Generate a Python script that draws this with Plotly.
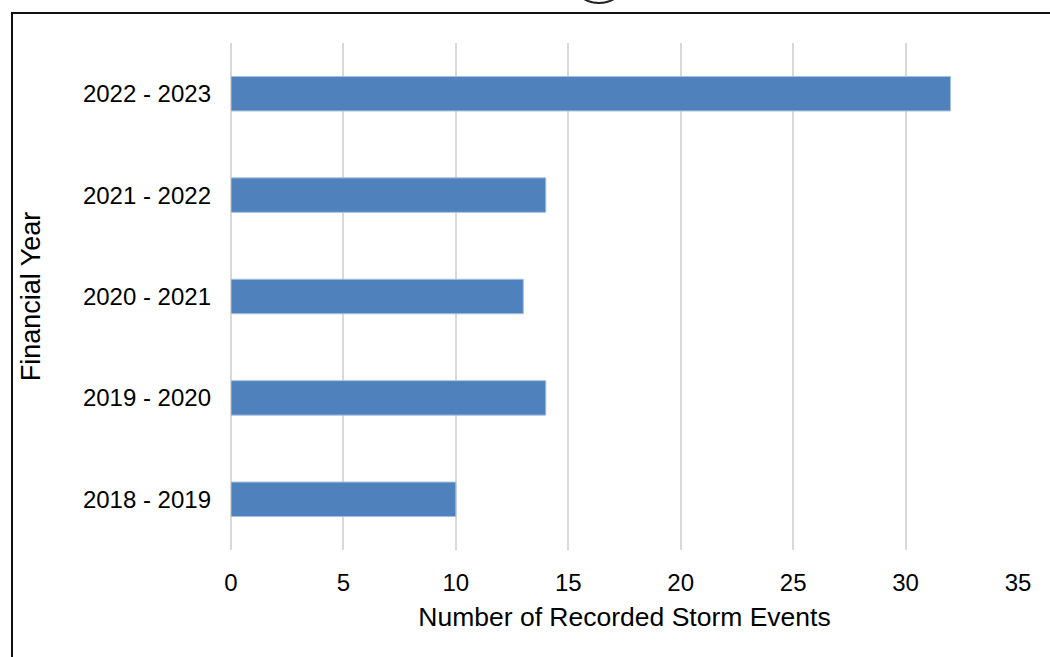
import plotly.graph_objects as go

categories = ["2018 - 2019", "2019 - 2020", "2020 - 2021", "2021 - 2022", "2022 - 2023"]
storm_events = [10, 14, 13, 14, 32]
x_ticks = [0, 5, 10, 15, 20, 25, 30, 35]

OFF = 0  # page body margin removed via post_script
W, H = 1050, 657
# target plot area in screen pixels: x 231..1018, y 43..550
L, T = 231 - OFF, 43 - OFF
R = W - (1018 - OFF)
B = H - (550 - OFF)
pw, ph = W - L - R, H - T - B

def px_x(p):  # screen px -> paper
    return (p - OFF - L) / pw

def px_y(p):
    return 1 + (T - (p - OFF)) / ph

font = "Liberation Sans, Arial, sans-serif"

fig = go.Figure(go.Bar(
    y=categories, x=storm_events, orientation="h",
    marker=dict(color="#4F81BD", line=dict(color="#A7C0E0", width=1)),
))

fig.update_layout(
    width=W, height=H,
    margin=dict(l=L, r=R, t=T, b=B, autoexpand=False),
    paper_bgcolor="white", plot_bgcolor="white",
    bargap=0.66, showlegend=False,
    font=dict(family=font, color="#000000"),
    xaxis=dict(
        range=[0, 35], tickvals=x_ticks, ticks="",
        showgrid=True, gridcolor="#D9D9D9", gridwidth=1.5,
        zeroline=True, zerolinecolor="#D9D9D9", zerolinewidth=1.5,
        showline=False, tickfont=dict(size=24, family=font),
        ticklabelstandoff=16,
        title=dict(text="Number of Recorded Storm Events", font=dict(size=26.5, family=font), standoff=12),
    ),
    yaxis=dict(
        categoryorder="array", categoryarray=categories,
        ticks="", showgrid=False, showline=False,
        tickfont=dict(size=24, family=font),
        ticklabelstandoff=19,
        title=dict(text="Financial Year", font=dict(size=27, family=font), standoff=34),
    ),
    shapes=[
        dict(type="rect", xref="paper", yref="paper",
             x0=px_x(12), x1=px_x(1120), y0=px_y(760), y1=px_y(13),
             line=dict(color="#111111", width=2), fillcolor="rgba(0,0,0,0)", layer="above"),
        dict(type="circle", xref="paper", yref="paper",
             x0=px_x(569), x1=px_x(629), y0=px_y(3), y1=px_y(-57),
             line=dict(color="#222222", width=2), fillcolor="rgba(0,0,0,0)"),
    ],
)

fig.write_html("out.html", config={"displayModeBar": False},
               post_script="document.body.style.margin='0';")
